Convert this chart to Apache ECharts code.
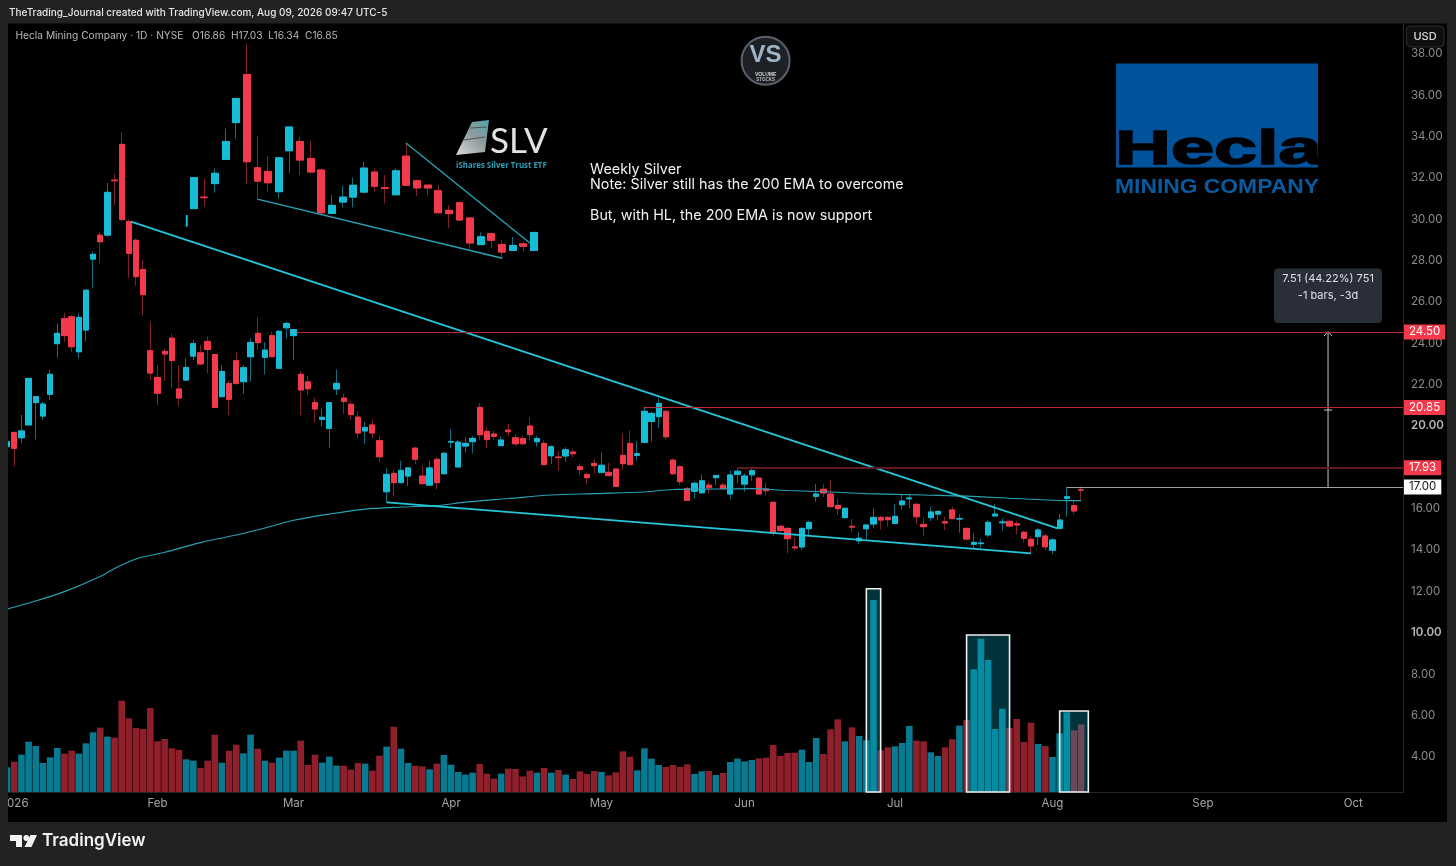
<!DOCTYPE html>
<html><head><meta charset="utf-8">
<style>html,body{margin:0;padding:0;background:#000}#c{width:1456px;height:866px}</style>
<script src="https://cdn.jsdelivr.net/npm/echarts@6/dist/echarts.min.js"></script>
</head><body><div id="c"></div>
<script>
// ---- Daily Hecla candles, Dec 31 2025 .. Aug 7 2026
const opens=[18.95,19.64,19.38,20.00,21.08,20.43,21.48,23.93,25.14,25.23,23.54,24.59,28.02,29.18,29.18,31.84,33.57,29.83,28.93,27.52,23.59,22.30,23.56,24.20,21.74,22.17,23.33,23.49,24.04,23.41,21.37,22.01,23.11,22.09,23.30,24.43,23.27,24.32,22.74,24.70,24.32,22.45,22.08,21.08,20.27,19.83,21.74,21.30,21.00,20.38,19.71,20.00,19.24,16.77,17.66,17.21,17.53,18.88,17.53,17.09,18.34,17.64,19.17,17.97,18.98,19.19,20.85,19.69,19.56,19.00,19.75,19.38,19.34,19.95,19.19,19.11,18.51,18.45,18.50,18.69,17.98,17.61,18.14,17.71,17.71,17.87,18.53,19.11,18.53,19.16,20.17,20.40,20.66,18.30,17.98,16.93,16.79,16.72,17.09,17.45,17.09,16.66,17.61,17.14,17.59,17.43,16.90,16.26,15.10,15.00,14.10,14.10,14.98,16.55,16.89,16.66,16.11,15.52,15.10,14.40,14.98,15.21,15.53,15.53,15.24,16.14,16.43,16.16,15.19,15.52,15.69,15.32,15.89,15.45,15.00,14.23,14.26,14.68,15.60,15.27,15.34,15.22,14.81,14.47,14.60,14.63,13.94,15.00,16.45,16.10,16.86];
const closes=[19.19,18.87,19.71,22.25,21.37,21.01,22.45,24.43,24.32,23.78,25.20,26.52,28.25,28.86,31.25,31.81,29.94,28.30,27.17,26.30,22.51,21.53,23.43,23.11,21.30,22.78,23.93,22.95,23.65,20.85,22.59,21.24,22.01,22.77,23.99,23.98,23.62,23.30,24.53,24.91,24.61,21.69,21.75,20.77,20.37,21.08,22.01,21.14,20.50,19.61,19.88,19.61,18.46,17.61,17.21,17.80,17.92,18.34,17.16,17.92,17.21,18.63,19.20,19.17,19.11,19.35,19.53,19.29,19.45,19.27,19.67,19.09,19.09,19.53,19.34,18.08,18.95,18.42,18.80,18.61,17.84,17.45,18.03,18.05,17.55,17.03,18.13,18.08,18.61,20.66,20.56,21.04,19.43,17.64,17.26,16.35,17.18,17.30,16.97,17.56,16.92,17.58,17.76,17.53,17.79,16.66,16.82,14.76,14.89,14.50,14.06,15.00,15.29,16.66,16.71,16.05,15.95,15.97,15.06,14.52,15.16,15.53,15.40,15.42,15.58,16.32,16.47,15.56,15.08,15.79,15.82,15.26,15.47,15.48,14.48,14.32,14.29,15.29,15.69,15.31,15.11,15.16,14.52,14.15,14.92,14.11,14.44,15.40,16.53,15.84,16.85];
const lows=[18.90,18.01,19.11,20.00,19.30,20.24,21.20,23.25,24.03,23.54,23.22,24.03,26.64,27.81,29.10,30.63,29.83,27.09,26.73,25.30,22.17,20.96,22.14,21.77,20.91,22.14,23.14,22.90,22.49,20.80,21.33,20.48,21.93,21.50,22.09,23.62,22.45,23.30,22.70,24.19,23.14,20.48,21.45,20.11,19.92,18.90,21.45,20.53,20.24,19.34,19.06,19.35,18.22,16.24,16.56,17.18,17.05,18.11,17.14,17.06,16.89,17.62,18.87,17.95,18.66,18.63,19.27,18.88,19.27,18.98,19.46,18.98,19.05,19.27,18.95,18.06,18.11,17.79,18.22,18.43,17.58,17.14,17.66,17.66,17.50,17.01,17.82,18.06,18.27,19.14,19.19,19.84,19.30,17.58,17.09,16.32,16.45,16.69,16.69,17.09,16.89,16.40,17.18,16.77,17.30,16.64,16.58,14.63,14.84,13.79,13.95,13.95,14.63,16.29,16.50,16.01,15.64,15.48,14.84,14.24,14.47,15.00,14.95,15.08,15.21,15.89,15.97,15.21,14.63,15.35,15.40,14.92,15.43,14.79,14.44,14.03,14.03,14.56,15.58,14.89,15.05,14.71,14.31,13.82,14.19,13.95,13.76,14.95,15.56,15.69,16.34];
const highs=[19.25,19.64,20.48,22.25,21.37,21.12,22.66,24.91,25.43,25.31,25.40,26.52,28.38,29.34,31.71,32.13,34.18,29.94,29.02,27.97,24.98,22.90,23.70,24.40,22.90,23.22,24.11,23.86,24.27,23.41,22.90,22.17,23.53,22.90,24.19,25.20,24.01,24.51,24.59,24.99,24.64,22.62,22.37,21.32,20.80,21.12,22.69,21.53,21.17,20.67,20.16,20.27,19.46,17.90,17.85,18.27,17.95,18.92,18.01,18.27,18.43,18.71,19.79,19.27,19.40,19.46,21.08,19.87,19.72,19.46,20.04,19.56,19.46,20.37,19.46,19.27,19.01,18.76,18.92,18.82,18.14,17.66,18.34,18.67,18.17,17.90,19.59,19.72,19.22,20.88,20.64,21.29,20.69,18.38,18.05,17.01,17.26,17.61,17.26,17.58,17.21,17.79,17.90,17.66,17.90,17.47,17.21,16.29,15.16,15.05,14.56,15.03,15.37,17.14,17.13,17.34,16.45,16.00,15.45,14.81,15.19,15.97,15.60,15.60,16.18,16.64,16.69,16.24,15.52,16.05,15.89,15.56,16.05,15.69,15.03,14.76,14.50,15.40,16.18,15.48,15.43,15.35,14.89,14.60,15.00,14.73,14.52,15.69,17.01,16.37,17.03];
const volumes=[7.4,9.1,11.2,15.1,13.8,8.7,10.4,13.2,11.5,12.4,11.5,14.6,17.9,19.3,16.6,16.3,27.4,22.1,19.2,18.9,25.2,15.2,15.9,13.1,12.6,9.8,9.4,7.2,9.4,17.2,8.8,12.4,14.2,11.6,17.2,13.0,9.4,8.8,10.3,12.4,12.4,15.4,8.1,11.2,8.8,10.6,7.9,7.9,6.7,8.7,8.5,6.4,10.9,13.6,19.6,13.0,8.7,7.9,7.7,6.8,8.5,11.1,8.2,6.0,5.2,5.8,8.4,5.5,4.0,5.5,7.0,6.9,4.7,6.4,5.8,7.2,5.8,6.6,5.2,3.9,6.2,5.4,6.3,6.0,5.0,5.9,12.2,10.6,6.5,13.1,10.0,8.1,7.5,8.1,7.5,8.3,5.4,6.2,6.3,5.1,5.7,9.0,10.0,9.2,9.6,10.1,10.3,14.1,10.8,11.7,11.8,12.7,9.0,16.2,11.4,18.8,21.8,15.2,19.4,16.8,15.5,57.6,12.5,13.4,13.7,14.7,19.8,15.4,15.2,11.9,10.8,13.4,15.8,19.9,21.6,36.8,46.0,39.6,18.9,25.0,19.2,21.9,15.0,20.8,14.4,13.8,10.5,17.6,23.9,18.5,20.3];
// 200 EMA, read at a selection of bars
const emaBars=[0,4,8,13,15,18,22,27,32,36,40,45,50,55,60,64,70,76,82,89,93,99,104,109,115,120,128,134,141,148,150];
const emaValues=[11.10,11.49,11.94,12.67,13.06,13.52,13.84,14.31,14.68,15.02,15.39,15.69,15.93,16.03,16.10,16.27,16.44,16.61,16.68,16.76,16.88,16.90,16.92,16.83,16.76,16.68,16.61,16.56,16.44,16.34,16.34];
// Pasted weekly silver chart, on the same vertical scale as the picture
const silverOpens=[30.46,31.02,31.67,32.84,34.62,36.95,32.44,32.26,31.28,33.26,33.71,32.89,32.33,30.23,30.78,31.02,31.26,32.23,31.47,31.13,33.00,31.81,31.60,31.33,30.38,30.75,30.01,28.72,29.25,28.73,28.44,28.76,28.44];
const silverCloses=[31.96,30.99,32.17,33.71,35.79,32.73,31.79,31.71,32.92,34.41,32.81,32.23,30.26,30.62,31.02,31.59,32.42,31.54,31.44,32.29,31.59,31.46,31.46,30.26,30.22,29.91,28.80,29.10,28.93,28.36,28.68,28.64,29.31];
const silverLows=[30.44,30.55,31.23,32.82,33.86,31.65,30.96,31.28,30.96,32.17,32.09,32.17,30.20,30.20,30.52,30.52,31.24,31.28,30.71,31.11,31.57,31.07,31.10,30.23,29.54,29.89,28.49,28.70,28.54,28.06,28.42,28.38,28.42];
const silverHighs=[31.96,31.89,32.41,34.34,35.79,38.45,33.97,33.00,32.92,34.41,33.94,33.75,32.41,31.12,31.55,31.96,32.73,32.41,32.09,32.41,33.62,31.88,31.63,31.60,30.63,30.78,30.04,29.30,29.27,28.94,29.10,28.86,29.34];
const silverSliver=[[25.08,30.15],[25.08,29.59]];
// Drawn trend lines: [bar, price] ends
const mainTrend=[[17.3,29.83],[146.7,15.00]];
const lowerTrend=[[53.0,16.26],[143.0,13.79]];
const silverUpper=[[55.7,33.63],[73.0,28.80]];
const silverLower=[[34.94,30.92],[69.16,28.06]];
// Horizontal levels
const levelValues=[24.50,20.85,17.93,17.00];
const levelStarts=[40.4,88.9,102,148];
// Measure arrow
const arrowShaft=[[184.48,17.00],[184.48,24.50]];
const arrowHead=[[183.92,24.30],[184.48,24.52],[185.04,24.30]];
const arrowMid=[[183.92,20.72],[185.04,20.72]];
// Boxes round the volume spikes: start bar, end bar, top on the picture's scale
const boxStarts=[120,134,147];
const boxEnds=[122,140,151];
const boxTops=[12.08,9.84,6.17];
// Axis ticks
const priceTicks=[4,6,8,10,12,14,16,18,20,22,24,26,28,30,32,34,36,38];
const tickBars=[1,21,40,62,83,103,124,146,167,188];
const tickLabels=['2026','Feb','Mar','Apr','May','Jun','Jul','Aug','Sep','Oct'];
const holidays=['2026-01-01','2026-01-19','2026-02-16','2026-04-03','2026-05-25','2026-06-19','2026-07-03','2026-09-07'];

const categories=[];
for(let d=new Date(Date.UTC(2025,11,31));categories.length<196;d=new Date(d.getTime()+864e5)){
  const s=d.toISOString().slice(0,10),w=d.getUTCDay();
  if(w!==0&&w!==6&&!holidays.includes(s))categories.push(s);
}
const silverWeeks=silverOpens.map((_,i)=>'W'+(i+1));

const UP='#17bcd6',DOWN='#f23a4c',UPW='#0f6f82',DOWNW='#7e2028',VUP='#087a91',VDOWN='#8e1f2b',TREND='#26c6da';
const FONT='Inter, "Noto Sans", sans-serif';
const FRAME='#222222';
const yMin=2.25,yMax=39.39;

const candles=opens.map((o,i)=>[o,closes[i],lows[i],highs[i]]);
const bodies=opens.map((o,i)=>[o,closes[i],Math.min(o,closes[i]),Math.max(o,closes[i])]);
const sCandles=silverOpens.map((o,i)=>[o,silverCloses[i],silverLows[i],silverHighs[i]]);
const sBodies=silverOpens.map((o,i)=>[o,silverCloses[i],Math.min(o,silverCloses[i]),Math.max(o,silverCloses[i])]);

function lineSeries(data,color,width,smooth){
  return {type:'line',xAxisIndex:1,yAxisIndex:2,data,showSymbol:false,symbol:'none',silent:true,smooth:smooth||false,
    lineStyle:{color,width},z:4,animation:false};
}
function levelLine(i,lineColor,width,bg,fg){
  const v=levelValues[i];
  return [{coord:[levelStarts[i],v],lineStyle:{color:lineColor,width,type:'solid'},
    label:{show:true,position:'end',distance:1,formatter:v.toFixed(2),color:fg,backgroundColor:bg,
      padding:[2,5,1,5],fontSize:11.5,fontFamily:FONT,align:'left'}},
    {coord:[194.95,v]}];
}

const option={
  animation:false,backgroundColor:'#000',
  grid:[
    {left:3.56,top:24,width:1403.36,height:768,outerBoundsMode:'none'},
    {left:8,top:24,width:1395,height:768,outerBoundsMode:'none'},
    {left:188.38,top:24,width:350.92,height:768,outerBoundsMode:'none'}
  ],
  xAxis:[
    {type:'category',gridIndex:0,data:categories,boundaryGap:true,axisLine:{show:false},axisTick:{show:false},splitLine:{show:false},
      axisLabel:{margin:6,color:'#a6a6a6',fontSize:11.5,fontFamily:FONT,hideOverlap:false,
        interval:i=>tickBars.includes(i),
        formatter:(v,i)=>{const k=tickBars.indexOf(i);return k<0?'':tickLabels[k];}}},
    {type:'value',gridIndex:1,min:0.12,max:194.95,axisLine:{show:true,onZero:false,lineStyle:{color:'#262626'}},axisTick:{show:false},axisLabel:{show:false},splitLine:{show:false}},
    {type:'category',gridIndex:2,data:silverWeeks,show:false}
  ],
  yAxis:[
    {type:'value',gridIndex:0,min:yMin,max:yMax,show:false,splitLine:{show:false}},
    {type:'value',gridIndex:0,min:0,max:230.4,show:false,splitLine:{show:false}},
    {type:'value',gridIndex:1,position:'right',min:yMin,max:yMax,splitLine:{show:false},
      axisLine:{show:true,onZero:false,lineStyle:{color:'#262626'}},axisTick:{show:false},
      axisLabel:{customValues:priceTicks,margin:8,padding:[2,0,0,0],fontFamily:FONT,fontSize:11.5,color:'#8c8c8c',
        formatter:v=>(v===10||v===20)?'{b|'+v.toFixed(2)+'}':v.toFixed(2),
        rich:{b:{color:'#b8b8b8',fontWeight:600,fontSize:11.5,fontFamily:FONT}}}},
    {type:'value',gridIndex:2,min:yMin,max:yMax,show:false,splitLine:{show:false}}
  ],
  series:[
    {type:'bar',xAxisIndex:0,yAxisIndex:1,data:volumes,barWidth:6.6,silent:true,z:2,
      itemStyle:{color:p=>closes[p.dataIndex]>=opens[p.dataIndex]?VUP:VDOWN}},
    {type:'line',xAxisIndex:1,yAxisIndex:2,data:[],silent:true,z:3,
      markArea:{silent:true,z:6,
        itemStyle:{color:'rgba(0,190,215,0.27)',borderColor:'#eeeeee',borderWidth:1.6},
        data:boxStarts.map((s,i)=>[{xAxis:s,yAxis:yMin},{xAxis:boxEnds[i],yAxis:boxTops[i]}])}},
    {type:'candlestick',xAxisIndex:0,yAxisIndex:0,data:candles,barWidth:5.8,silent:true,z:3,
      itemStyle:{color:UPW,color0:DOWNW,borderColor:UPW,borderColor0:DOWNW,borderWidth:1}},
    {type:'candlestick',xAxisIndex:0,yAxisIndex:0,data:bodies,barWidth:5.8,silent:true,z:3,
      itemStyle:{color:UP,color0:DOWN,borderColor:UP,borderColor0:DOWN,borderColorDoji:'#e8d0d0',borderWidth:1}},
    {type:'candlestick',xAxisIndex:2,yAxisIndex:3,data:sCandles,barWidth:7.4,silent:true,z:3,
      itemStyle:{color:UPW,color0:DOWNW,borderColor:UPW,borderColor0:DOWNW,borderWidth:1}},
    {type:'candlestick',xAxisIndex:2,yAxisIndex:3,data:sBodies,barWidth:7.4,silent:true,z:3,
      itemStyle:{color:UP,color0:DOWN,borderColor:UP,borderColor0:DOWN,borderWidth:1}},
    lineSeries(silverSliver,UP,2),
    lineSeries(emaBars.map((b,i)=>[b,emaValues[i]]),'#2aa3b5',1.1,0.3),
    lineSeries(mainTrend,TREND,1.8),
    lineSeries(lowerTrend,TREND,1.8),
    lineSeries(silverUpper,'#27a5b8',1.3),
    lineSeries(silverLower,'#27a5b8',1.4),
    lineSeries(arrowShaft,'#c8c8c8',1),
    lineSeries(arrowHead,'#c8c8c8',1),
    lineSeries(arrowMid,'#c8c8c8',1),
    {type:'line',xAxisIndex:1,yAxisIndex:2,data:[],silent:true,z:5,
      markLine:{silent:true,symbol:'none',z:7,animation:false,data:[
        levelLine(0,'#b02c33',1,'#f23a4c','#fff'),
        levelLine(1,'#c42a33',1,'#f23a4c','#fff'),
        levelLine(2,'#5e1a20',2,'#f23a4c','#fff'),
        levelLine(3,'#a0a0a0',1,'#ffffff','#111')
      ]}}
  ],
  graphic:{elements:[
    // frame
    {type:'rect',silent:true,z:100,shape:{x:0,y:0,width:8,height:866},style:{fill:FRAME}},
    {type:'rect',silent:true,z:100,shape:{x:0,y:0,width:1456,height:23.5},style:{fill:FRAME}},
    {type:'rect',silent:true,z:100,shape:{x:1447,y:0,width:9,height:866},style:{fill:FRAME}},
    {type:'rect',silent:true,z:100,shape:{x:0,y:822,width:1456,height:44},style:{fill:FRAME}},
    {type:'text',silent:true,z:101,x:9,y:13,style:{text:'TheTrading_Journal created with TradingView.com, Aug 09, 2026 09:47 UTC-5',fill:'#e6e6e6',fontSize:10,fontWeight:500,fontFamily:FONT,verticalAlign:'middle'}},
    {type:'text',silent:true,z:101,x:15.5,y:35.5,style:{text:'Hecla Mining Company · 1D · NYSE   O16.86  H17.03  L16.34  C16.85',fill:'#b8b8b8',fontSize:10.2,fontFamily:FONT,verticalAlign:'middle'}},
    // USD button
    {type:'rect',silent:true,z:101,shape:{x:1406.5,y:26,width:37.5,height:21,r:4},style:{fill:'#0f0f0f',stroke:'#2e2e2e',lineWidth:1}},
    {type:'text',silent:true,z:102,x:1425,y:36.5,style:{text:'USD',fill:'#dcdcdc',fontSize:11,fontWeight:500,fontFamily:FONT,align:'center',verticalAlign:'middle'}},
    // note text
    {type:'text',silent:true,z:20,x:590,y:169.8,style:{text:'Weekly Silver',fill:'#f2f2f2',fontSize:14.35,fontFamily:FONT,verticalAlign:'middle'}},
    {type:'text',silent:true,z:20,x:590,y:184.8,style:{text:'Note: Silver still has the 200 EMA to overcome',fill:'#f2f2f2',fontSize:14.35,fontFamily:FONT,verticalAlign:'middle'}},
    {type:'text',silent:true,z:20,x:590,y:215.8,style:{text:'But, with HL, the 200 EMA is now support',fill:'#f2f2f2',fontSize:14.35,fontFamily:FONT,verticalAlign:'middle'}},
    // measure box
    {type:'rect',silent:true,z:20,shape:{x:1274,y:268.5,width:108,height:54.5,r:4},style:{fill:'#2a2e39'}},
    {type:'text',silent:true,z:21,x:1328,y:279,style:{text:'7.51 (44.22%) 751',fill:'#dfe1e6',fontSize:11,fontFamily:FONT,align:'center',verticalAlign:'middle'}},
    {type:'text',silent:true,z:21,x:1328,y:296,style:{text:'-1 bars, -3d',fill:'#dfe1e6',fontSize:11,fontFamily:FONT,align:'center',verticalAlign:'middle'}},
    // Hecla logo
    {type:'rect',silent:true,z:20,shape:{x:1116,y:63.5,width:202,height:104},style:{fill:'#00529b'}},
    {type:'text',silent:true,z:21,x:1115,y:150.5,scaleX:1.58,style:{text:'Hecla',fill:'#000',stroke:'#000',lineWidth:1.6,fontSize:49,fontWeight:'bold',fontFamily:'"Liberation Sans"',verticalAlign:'middle'}},
    {type:'text',silent:true,z:21,x:1115,y:187,scaleX:1.088,style:{text:'MINING COMPANY',fill:'#0a5aa0',fontSize:21,fontWeight:'bold',fontFamily:'"Liberation Sans"',verticalAlign:'middle'}},
    // VS logo
    {type:'circle',silent:true,z:20,shape:{cx:765.6,cy:60.7,r:24},style:{fill:'#1d2126',stroke:'#5a6168',lineWidth:2}},
    {type:'text',silent:true,z:21,x:765.6,y:55,style:{text:'VS',fill:'#9fb4c4',fontSize:24,fontWeight:'bold',fontFamily:'"Liberation Sans"',align:'center',verticalAlign:'middle'}},
    {type:'text',silent:true,z:21,x:765.6,y:75,style:{text:'VOLUME',fill:'#d8d8d8',fontSize:5,fontWeight:'bold',fontFamily:'"Liberation Sans"',align:'center',verticalAlign:'middle'}},
    {type:'text',silent:true,z:21,x:765.6,y:80,style:{text:'STOCKS',fill:'#b8b8b8',fontSize:4.5,fontWeight:'bold',fontFamily:'"Liberation Sans"',align:'center',verticalAlign:'middle'}},
    // SLV logo
    {type:'polygon',silent:true,z:20,shape:{points:[[456,155],[472,122],[489,120],[485,152]]},
      style:{fill:{type:'linear',x:0,y:1,x2:1,y2:0,colorStops:[{offset:0,color:'#d9dcdc'},{offset:0.55,color:'#8f9a9c'},{offset:1,color:'#4fa7a8'}]}}},
    {type:'polyline',silent:true,z:21,shape:{points:[[463,140],[485,137]]},style:{stroke:'#555',lineWidth:1.2,fill:'none'}},
    {type:'polyline',silent:true,z:21,shape:{points:[[470,128],[487,127]]},style:{stroke:'#555',lineWidth:1.2,fill:'none'}},
    {type:'text',silent:true,z:21,x:490,y:142,style:{text:'SLV',fill:'#e2e2e2',fontSize:35,fontFamily:'Lato',verticalAlign:'middle'}},
    {type:'text',silent:true,z:21,x:456,y:165,scaleX:0.875,style:{text:'iShares Silver Trust ETF',fill:'#2f9fb5',fontSize:9,fontWeight:'bold',fontFamily:'"Open Sans"',verticalAlign:'middle'}},
    // TradingView logo
    {type:'polygon',silent:true,z:101,shape:{points:[[10,835],[22,835],[22,847],[16,847],[16,841],[10,841]]},style:{fill:'#f2f2f2'}},
    {type:'circle',silent:true,z:101,shape:{cx:26.3,cy:838,r:2.9},style:{fill:'#f2f2f2'}},
    {type:'polygon',silent:true,z:101,shape:{points:[[30.5,835],[37,835],[31.5,847],[24.5,847]]},style:{fill:'#f2f2f2'}},
    {type:'text',silent:true,z:101,x:42,y:841,style:{text:'TradingView',fill:'#f2f2f2',fontSize:17,fontWeight:600,fontFamily:FONT,verticalAlign:'middle'}}
  ]}
};
const chart=echarts.init(document.getElementById('c'),null,{width:1456,height:866});
chart.setOption(option);
</script></body></html>
